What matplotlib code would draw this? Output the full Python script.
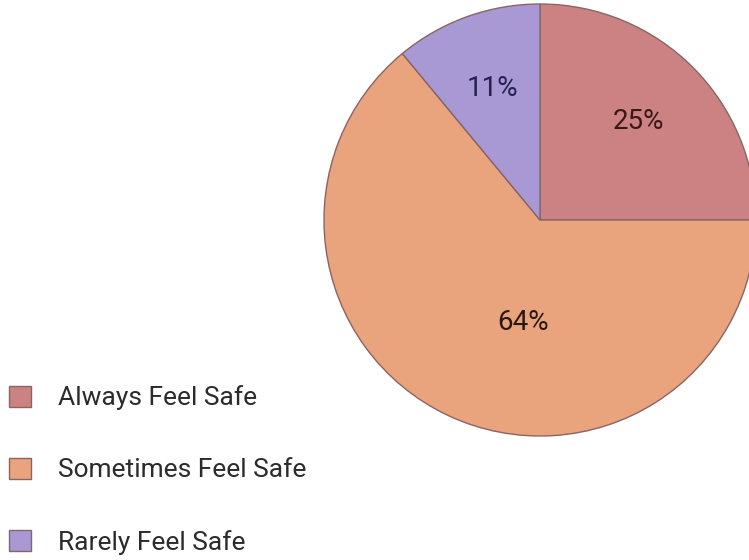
import matplotlib
matplotlib.use('Agg')
import matplotlib.pyplot as plt

labels = ["Always Feel Safe", "Sometimes Feel Safe", "Rarely Feel Safe"]
shares = [25, 64, 11]
colors = ["#cc8282", "#e9a47e", "#a899d4"]
pct_colors = ["#3a1818", "#2a1810", "#252050"]

plt.rcParams['font.family'] = ['Roboto', 'DejaVu Sans']

W, H = 749, 560
fig = plt.figure(figsize=(W / 100, H / 100), dpi=100)
ax = fig.add_axes([0, 0, 1, 1])

cx, cy, r = 540, H - 220, 216
wedges, texts, autotexts = ax.pie(
    shares, colors=colors, startangle=90, counterclock=False,
    center=(cx, cy), radius=r, autopct='%d%%', pctdistance=0.645,
    wedgeprops=dict(edgecolor='#8a6464', linewidth=1.0),
    textprops=dict(fontsize=20))

for t, c in zip(autotexts, pct_colors):
    t.set_color(c)
# the big slice label sits nearer the centre in the original
autotexts[1].set_position((cx - 17, cy - 102))

ax.set_xlim(0, W)
ax.set_ylim(0, H)
ax.set_aspect('auto')
ax.axis('off')

leg = ax.legend(wedges, labels, loc='center left',
                bbox_to_anchor=(9 / W, 90 / H), frameon=False,
                fontsize=19, handlelength=0.85, handleheight=0.85,
                handletextpad=1.0, labelspacing=1.8,
                borderpad=0, borderaxespad=0)
for t in leg.get_texts():
    t.set_color('#2b2b2b')

fig.savefig('out.png', dpi=100)
